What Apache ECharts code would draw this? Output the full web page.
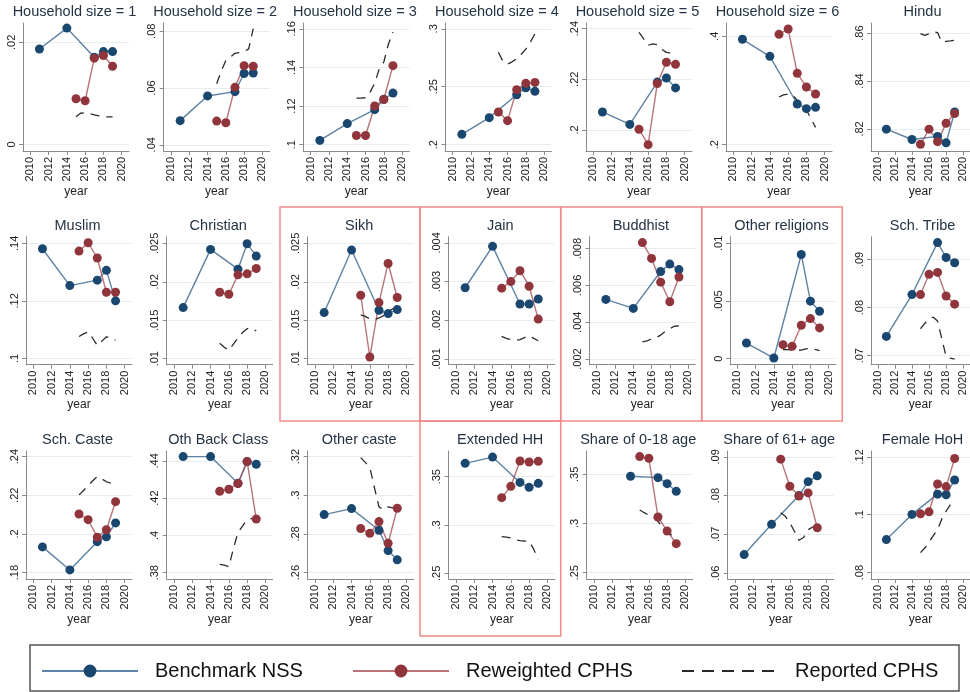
<!DOCTYPE html>
<html>
<head>
<meta charset="utf-8">
<script src="https://cdn.jsdelivr.net/npm/echarts@6/dist/echarts.min.js"></script>
<style>
html, body { margin: 0; padding: 0; background: #fff; }
#chart { width: 970px; height: 692px; }
</style>
</head>
<body>
<div id="chart"></div>
<script>
// ---- data ----
const panelTitles = [
  'Household size = 1', 'Household size = 2', 'Household size = 3', 'Household size = 4',
  'Household size = 5', 'Household size = 6', 'Hindu',
  'Muslim', 'Christian', 'Sikh', 'Jain', 'Buddhist', 'Other religions', 'Sch. Tribe',
  'Sch. Caste', 'Oth Back Class', 'Other caste', 'Extended HH', 'Share of 0-18 age',
  'Share of 61+ age', 'Female HoH'
];

const nssYears = [2011, 2014, 2017, 2018, 2019];
const cphsYears = [2015, 2016, 2017, 2018, 2019];
const reportedYears = [2015, 2015.5, 2016, 2016.5, 2017, 2017.5, 2018, 2018.5, 2019];
const xTicks = [2010, 2012, 2014, 2016, 2018, 2020];

const benchmarkNSS = [
  [0.0187, 0.0228, 0.0171, 0.0182, 0.0182],
  [0.0485, 0.0572, 0.0587, 0.0651, 0.0653],
  [0.1022, 0.1109, 0.1181, 0.1235, 0.1267],
  [0.2089, 0.2233, 0.2431, 0.2491, 0.2460],
  [0.2071, 0.2022, 0.2189, 0.2205, 0.2166],
  [0.3945, 0.3631, 0.2751, 0.2665, 0.2689],
  [0.8199, 0.8156, 0.8169, 0.8142, 0.8271],
  [0.1381, 0.1253, 0.1272, 0.1306, 0.1200],
  [0.01665, 0.02422, 0.02165, 0.02496, 0.02335],
  [0.0160, 0.02413, 0.0163, 0.01587, 0.01639],
  [0.00284, 0.00391, 0.00242, 0.00242, 0.00255],
  [0.00524, 0.00475, 0.00676, 0.00716, 0.00686],
  [0.00136, 0.00006, 0.00904, 0.00499, 0.00412],
  [0.0740, 0.0827, 0.0935, 0.0904, 0.0893],
  [0.1933, 0.1814, 0.1960, 0.1985, 0.2057],
  [0.4423, 0.4423, 0.4280, 0.4396, 0.4382],
  [0.2900, 0.2931, 0.2819, 0.2714, 0.2666],
  [0.3638, 0.3703, 0.3441, 0.3390, 0.3431],
  [null, 0.3480, 0.3466, 0.3405, 0.3327],
  [0.0648, 0.0726, 0.0800, 0.0836, 0.0851],
  [0.0914, 0.1001, 0.1071, 0.1069, 0.1120]
];

const reweightedCPHS = [
  [0.00895, 0.00855, 0.0169, 0.01743, 0.01533],
  [0.04835, 0.04776, 0.06024, 0.06788, 0.06765],
  [0.1047, 0.1047, 0.1200, 0.1234, 0.1409],
  [0.2282, 0.2207, 0.2474, 0.2529, 0.2537],
  [0.2003, 0.1942, 0.2183, 0.2267, 0.2259],
  [0.4037, 0.4135, 0.3317, 0.3065, 0.2935],
  [0.8136, 0.8199, 0.8147, 0.8224, 0.8264],
  [0.1373, 0.1402, 0.1349, 0.1230, 0.1230],
  [0.01865, 0.01839, 0.02091, 0.02104, 0.02174],
  [0.01826, 0.01022, 0.0173, 0.02239, 0.01796],
  [0.00283, 0.00300, 0.00328, 0.00288, 0.00203],
  [0.00833, 0.00747, 0.00618, 0.00511, 0.00646],
  [0.00122, 0.00107, 0.00290, 0.00348, 0.00267],
  [0.0827, 0.0869, 0.0873, 0.0824, 0.0807],
  [0.2103, 0.2074, 0.1983, 0.2022, 0.2167],
  [0.4237, 0.4248, 0.4278, 0.4396, 0.4088],
  [0.2828, 0.2803, 0.2864, 0.2752, 0.2933],
  [0.3283, 0.3400, 0.3662, 0.3652, 0.3659],
  [0.3680, 0.3663, 0.3066, 0.2924, 0.2795],
  [0.0894, 0.0824, 0.0799, 0.0807, 0.0717],
  [0.1003, 0.1010, 0.1106, 0.1097, 0.1194]
];

const reportedCPHS = [
  [0.0054, 0.0061, 0.0062, 0.0060, 0.0058, 0.0056, 0.0054, 0.0054, 0.0054],
  [0.0615, 0.0660, 0.0697, 0.0709, 0.0722, 0.0725, 0.0728, 0.0738, 0.0809],
  [0.1241, 0.1241, 0.1243, 0.1272, 0.1318, 0.1392, 0.1428, 0.1520, 0.1583],
  [0.2797, 0.2718, 0.2695, 0.2715, 0.2741, 0.2780, 0.2825, 0.2885, 0.2957],
  [0.2385, 0.2360, 0.2334, 0.2340, 0.2336, 0.2318, 0.2306, 0.2304, 0.2303],
  [0.2880, 0.2920, 0.2935, 0.2910, 0.2820, 0.2730, 0.2640, 0.2480, 0.2320],
  [0.8598, 0.8590, 0.8597, 0.8605, 0.8602, 0.8562, 0.8565, 0.8567, 0.8570],
  [0.1076, 0.1085, 0.1092, 0.1070, 0.1045, 0.1060, 0.1075, 0.1072, 0.1063],
  [0.0120, 0.0115, 0.0111, 0.0119, 0.0127, 0.0134, 0.0139, 0.0140, 0.0136],
  [0.0157, 0.0155, 0.0152, 0.0151, 0.0153, 0.0156, 0.0161, 0.0165, 0.0168],
  [0.00158, 0.00153, 0.00150, 0.00148, 0.00150, 0.00155, 0.00160, 0.00153, 0.00147],
  [0.00293, 0.00298, 0.00310, 0.00316, 0.00330, 0.00350, 0.00365, 0.00378, 0.00380],
  [0.00080, 0.00078, 0.00075, 0.00072, 0.00075, 0.00085, 0.00093, 0.00080, 0.00070],
  [0.0756, 0.0767, 0.0777, 0.0780, 0.0772, 0.0735, 0.0698, 0.0695, 0.0693],
  [0.2202, 0.2225, 0.2250, 0.2275, 0.2297, 0.2285, 0.2270, 0.2262, 0.2258],
  [0.3845, 0.3840, 0.3832, 0.3930, 0.4015, 0.4050, 0.4085, 0.4090, 0.4095],
  [0.3195, 0.3170, 0.3145, 0.3040, 0.2940, 0.2925, 0.2940, 0.2935, 0.2930],
  [0.2880, 0.2875, 0.2865, 0.2845, 0.2838, 0.2834, 0.2832, 0.2750, 0.2645],
  [0.3137, 0.3110, 0.3085, 0.3060, 0.3020, 0.2970, 0.2930, 0.2880, 0.2815],
  [0.0756, 0.0747, 0.0730, 0.0708, 0.0685, 0.0692, 0.0712, 0.0719, 0.0718],
  [0.0869, 0.0885, 0.0905, 0.0928, 0.0948, 0.0985, 0.1012, 0.1035, 0.1055]
];

const yTicks = [
  [0, 0.02], [0.04, 0.06, 0.08], [0.1, 0.12, 0.14, 0.16], [0.2, 0.25, 0.3],
  [0.2, 0.22, 0.24], [0.2, 0.4], [0.82, 0.84, 0.86],
  [0.1, 0.12, 0.14], [0.01, 0.015, 0.02, 0.025], [0.01, 0.015, 0.02, 0.025],
  [0.001, 0.002, 0.003, 0.004], [0.002, 0.004, 0.006, 0.008], [0, 0.005, 0.01],
  [0.07, 0.08, 0.09],
  [0.18, 0.2, 0.22, 0.24], [0.38, 0.4, 0.42, 0.44], [0.26, 0.28, 0.3, 0.32],
  [0.25, 0.3, 0.35], [0.25, 0.3, 0.35], [0.06, 0.07, 0.08, 0.09], [0.08, 0.1, 0.12]
];

const yRanges = [
  [-0.0013, 0.0238], [0.0378, 0.0829], [0.0967, 0.163], [0.1945, 0.305],
  [0.1917, 0.2422], [0.1883, 0.4246], [0.8108, 0.8642],
  [0.0978, 0.1423], [0.00922, 0.02587], [0.00922, 0.02587], [0.00085, 0.00416],
  [0.00169, 0.00865], [-0.00052, 0.01058], [0.06813, 0.09472],
  [0.1767, 0.2429], [0.3766, 0.4453], [0.2567, 0.3229], [0.2441, 0.3766],
  [0.2436, 0.3737], [0.0585, 0.0915], [0.0778, 0.1220]
];

// ---- layout ----
const colLeft = [
  [23, 163.7, 303.4, 445.4, 586, 726, 871],
  [26, 166.7, 307.7, 448.7, 589.4, 730, 871],
  [26, 166.7, 307.7, 448.7, 586.7, 727.7, 871]
];
const rowTop = [23, 236.7, 451];
const titleTop = [4.5, 218.5, 432.5];
const plotW = 106, plotH = 128;

const FONT = '"Liberation Sans", Arial, sans-serif';
const NAVY = '#1a476f', MAROON = '#90353b';

function tickText(v) {
  const s = String(+v.toFixed(6));
  return s.replace(/^0\./, '.').replace(/^-0\./, '-.');
}

const grids = [], xAxes = [], yAxes = [], titles = [], series = [];

panelTitles.forEach((name, i) => {
  const r = Math.floor(i / 7), c = i % 7;
  const left = colLeft[r][c];
  grids.push({ left: left, top: rowTop[r], width: plotW, height: plotH, containLabel: false });
  titles.push({
    text: name, left: left + plotW / 2 - 1.5, top: titleTop[r], textAlign: 'center', padding: 0,
    textStyle: { fontFamily: FONT, fontSize: 14.5, fontWeight: 'normal', color: '#243344' }
  });
  xAxes.push({
    type: 'value', gridIndex: i, min: 2009.2, max: 2020.8,
    name: 'year', nameLocation: 'middle', nameGap: 30,
    nameTextStyle: { fontFamily: FONT, fontSize: 12, color: '#222' },
    axisLine: { show: true, onZero: false, lineStyle: { color: '#8a8a8a', width: 1 } },
    axisTick: { show: true, length: 4, customValues: xTicks, lineStyle: { color: '#8a8a8a' } },
    axisLabel: { customValues: xTicks, rotate: 90, fontFamily: FONT, fontSize: 11, color: '#222', margin: 6,
      formatter: v => String(Math.round(v)) },
    splitLine: { show: false }
  });
  yAxes.push({
    type: 'value', gridIndex: i, min: yRanges[i][0], max: yRanges[i][1],
    axisLine: { show: true, onZero: false, lineStyle: { color: '#8a8a8a', width: 1 } },
    axisTick: { show: true, length: 4, customValues: yTicks[i], lineStyle: { color: '#8a8a8a' } },
    axisLabel: { customValues: yTicks[i], rotate: 90, fontFamily: FONT, fontSize: 11, color: '#222', margin: 6,
      formatter: v => tickText(v) },
    splitLine: { show: true, lineStyle: { color: '#e4edef', width: 1 } }
  });

  series.push({
    type: 'line', name: 'Benchmark NSS', xAxisIndex: i, yAxisIndex: i,
    data: nssYears.map((yr, k) => [yr, benchmarkNSS[i][k]]).filter(p => p[1] !== null),
    symbol: 'circle', symbolSize: 9, showSymbol: true,
    itemStyle: { color: NAVY },
    lineStyle: { color: 'rgba(40,88,132,0.75)', width: 1.4 },
    emphasis: { disabled: true }, animation: false
  });
  series.push({
    type: 'line', name: 'Reweighted CPHS', xAxisIndex: i, yAxisIndex: i,
    data: cphsYears.map((yr, k) => [yr, reweightedCPHS[i][k]]),
    symbol: 'circle', symbolSize: 9, showSymbol: true,
    itemStyle: { color: MAROON },
    lineStyle: { color: 'rgba(160,70,76,0.75)', width: 1.4 },
    emphasis: { disabled: true }, animation: false
  });
  series.push({
    type: 'line', name: 'Reported CPHS', xAxisIndex: i, yAxisIndex: i,
    data: reportedYears.map((yr, k) => [yr, reportedCPHS[i][k]]),
    symbol: 'none',
    itemStyle: { color: '#222' },
    lineStyle: { color: '#2a2a2a', width: 1.3, type: [9, 7] },
    emphasis: { disabled: true }, animation: false
  });
});

function legendAt(name, left, dashed) {
  const lg = {
    data: [name], left: left, top: 661, padding: 0, itemWidth: 96, itemHeight: 16,
    selectedMode: false,
    textStyle: { fontFamily: FONT, fontSize: 20, color: '#111', padding: [0, 0, 0, 12] }
  };
  if (dashed) {
    lg.itemStyle = { opacity: 0 };
    lg.lineStyle = { type: [12, 8], width: 2 };
  }
  return lg;
}

const redBox = (x, y, w, h) => ({
  type: 'rect', shape: { x: x, y: y, width: w, height: h }, silent: true,
  style: { fill: 'none', stroke: '#f08a8a', lineWidth: 1.5 }
});

const chart = echarts.init(document.getElementById('chart'), null, { renderer: 'canvas' });
chart.setOption({
  backgroundColor: '#fff',
  animation: false,
  title: titles,
  grid: grids,
  xAxis: xAxes,
  yAxis: yAxes,
  series: series,
  legend: [
    legendAt('Benchmark NSS', 41, false),
    legendAt('Reweighted CPHS', 352, false),
    legendAt('Reported CPHS', 681, true)
  ],
  graphic: [
    redBox(280, 207, 140, 214),
    redBox(420, 207, 140.7, 214),
    redBox(560.7, 207, 141, 214),
    redBox(701.7, 207, 140.6, 214),
    redBox(420, 421, 140.7, 215),
    { type: 'rect', shape: { x: 30, y: 645, width: 929, height: 46 }, silent: true,
      style: { fill: 'none', stroke: '#555', lineWidth: 1.5 } }
  ]
});
</script>
</body>
</html>
